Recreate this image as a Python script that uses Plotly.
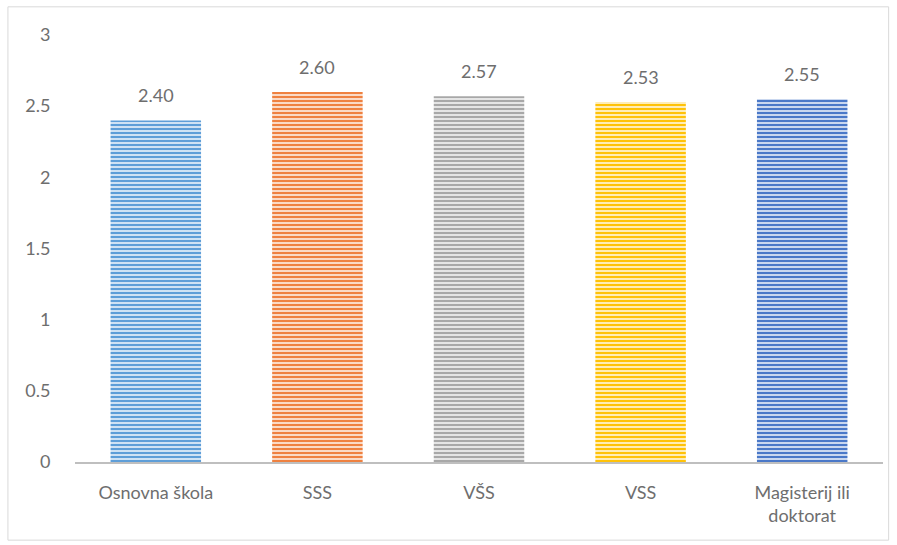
import plotly.graph_objects as go

categories = ["Osnovna škola", "SSS", "VŠS", "VSS", "Magisterij ili<br>doktorat"]
values = [2.40, 2.60, 2.57, 2.53, 2.55]
labels = ["2.40", "2.60", "2.57", "2.53", "2.55"]
bar_colors = ["#5E9ED8", "#EF8140", "#A8A8A8", "#FFC208", "#4A78C8"]
stripe_colors = ["#A9CDEE", "#F9BE96", "#D6D6D6", "#FFE08A", "#9DB5E4"]
y_ticks = [0, 0.5, 1, 1.5, 2, 2.5, 3]
y_tick_text = ["0", "0.5", "1", "1.5", "2", "2.5", "3"]

font_family = "Lato, 'Open Sans', sans-serif"
text_color = "#6E6E6E"
font_size = 18

fig = go.Figure(
    go.Bar(
        x=categories,
        y=values,
        marker=dict(
            color=bar_colors,
            line=dict(width=0),
            pattern=dict(
                shape="-",
                fgcolor=bar_colors,
                bgcolor=stripe_colors,
                fgopacity=1,
                fillmode="replace",
                size=4,
                solidity=0.65,
            ),
        ),
        hoverinfo="skip",
    )
)

# value labels sitting above each bar
for cat, val, lab in zip(categories, values, labels):
    fig.add_annotation(
        x=cat, y=val, text=lab, showarrow=False,
        yanchor="bottom", yshift=12,
        font=dict(family=font_family, size=font_size, color=text_color),
    )

fig.update_layout(
    width=897,
    height=545,
    margin=dict(l=75, r=14, t=35, b=83),
    paper_bgcolor="white",
    plot_bgcolor="white",
    bargap=0.44,
    showlegend=False,
    font=dict(family=font_family, size=font_size, color=text_color),
    shapes=[
        dict(
            type="rect", xref="paper", yref="paper",
            x0=-0.083, x1=1.007, y0=-0.183, y1=1.066,
            line=dict(color="#D9D9D9", width=1),
            fillcolor="rgba(0,0,0,0)", layer="below",
        )
    ],
)

fig.update_xaxes(
    showgrid=False,
    showline=True,
    linecolor="#BFBFBF",
    linewidth=2,
    ticks="outside",
    ticklen=13,
    tickcolor="rgba(0,0,0,0)",
    tickfont=dict(family=font_family, size=font_size, color=text_color),
)
fig.update_yaxes(
    range=[0, 3],
    tickvals=y_ticks,
    ticktext=y_tick_text,
    showgrid=False,
    zeroline=False,
    showline=False,
    ticks="outside",
    ticklen=20,
    tickcolor="rgba(0,0,0,0)",
    tickfont=dict(family=font_family, size=font_size, color=text_color),
)

fig.write_html("out.html")
